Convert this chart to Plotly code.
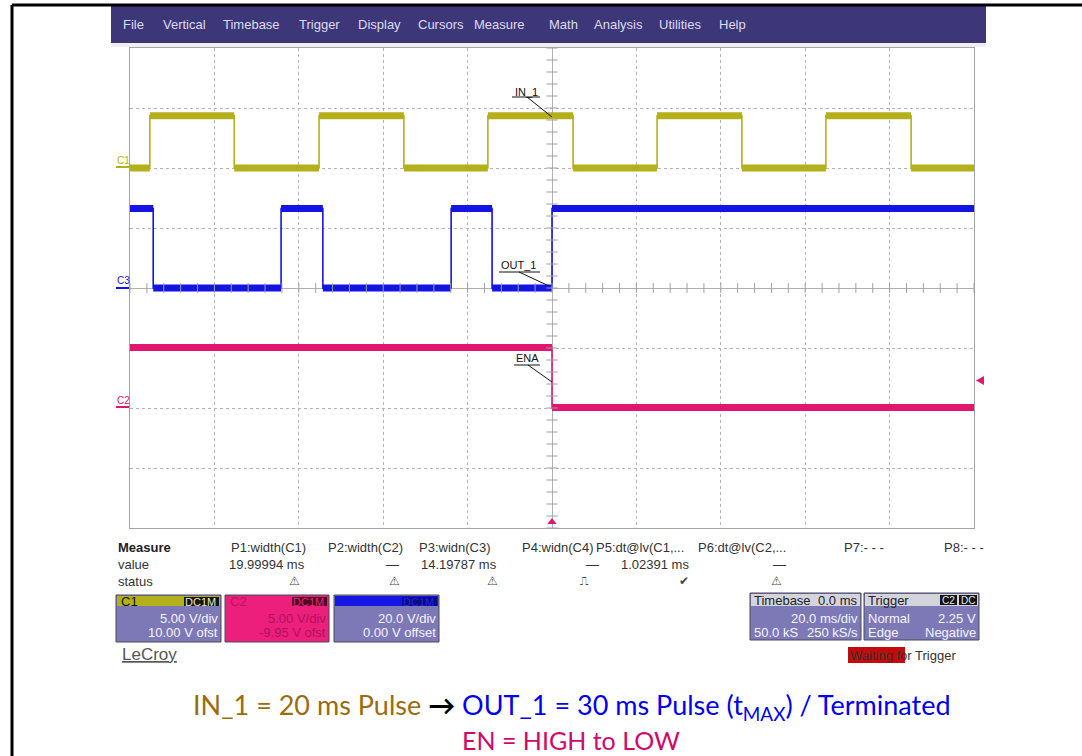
import plotly.graph_objects as go

W, H = 1082, 756

# ---------------- data ----------------
# time in ms (20 ms/div, trigger at 0 ms), levels in volts
time_ms_c1 = [-100, -95.3, -75.3, -55.2, -35.1, -15.2, 5.0, 24.9, 45.0, 64.9, 85.1, 100]
volt_c1 = [0.0, 4.35, 0.0, 4.35, 0.0, 4.35, 0.0, 4.35, 0.0, 4.35, 0.0, 0.0]
time_ms_c3 = [-100, -94.5, -64.2, -54.3, -23.9, -14.2, 0.0, 100]
volt_c3 = [26.5, 0.0, 26.5, 0.0, 26.5, 0.0, 26.5, 26.5]
time_ms_c2 = [-100, 0.0, 100]
volt_c2 = [5.0, 0.0, 0.0]

volts_per_div = {"C1": 5.0, "C2": 5.0, "C3": 20.0}
offset_v = {"C1": 10.0, "C2": -9.95, "C3": 0.0}
trigger_level_v = 2.25
trigger_time_ms = 0.0

signal_names = ["IN_1", "OUT_1", "ENA"]

menu_items = ["File", "Vertical", "Timebase", "Trigger", "Display", "Cursors",
              "Measure", "Math", "Analysis", "Utilities", "Help"]

meas_names = ["P1:width(C1)", "P2:width(C2)", "P3:widn(C3)", "P4:widn(C4)",
              "P5:dt@lv(C1,...", "P6:dt@lv(C2,...", "P7:- - -", "P8:- - -"]
meas_values = ["19.99994 ms", "\u2014", "14.19787 ms", "\u2014", "1.02391 ms", "\u2014", "", ""]
meas_status = ["\u26a0", "\u26a0", "\u26a0", "\u238d", "\u2714", "\u26a0", "", ""]

chan_labels = ["C1", "C2", "C3"]
chan_coupling = ["DC1M", "DC1M", "DC1M"]
chan_scale_text = ["5.00 V/div", "5.00 V/div", "20.0 V/div"]
chan_offset_text = ["10.00 V ofst", "-9.95 V ofst", "0.00 V offset"]

timebase_text = ["Timebase", "0.0 ms", "20.0 ms/div", "50.0 kS", "250 kS/s"]
trigger_text = ["Trigger", "C2", "DC", "Normal", "2.25 V", "Edge", "Negative"]

caption_line1_a = "IN_1 = 20 ms Pulse"
caption_line1_b = "OUT_1 = 30 ms Pulse (t<sub>MAX</sub>) / Terminated"
caption_line2 = "EN = HIGH to LOW"

# ---------------- styling ----------------
COL = {"C1": "#b4b01c", "C2": "#e3166f", "C3": "#1414e6"}
UI_FONT = "Liberation Sans"
BOX_BODY = "#7d79b6"

X0_PX, X1_PX = 130, 974      # graticule in pixels
Y0_PX, Y1_PX = 48, 528


def P(x):
    return x / W


def Q(y):
    return 1 - y / H


def to_div(ch, volts):
    return [(v + offset_v[ch]) / volts_per_div[ch] for v in volts]


def bands(t, v):
    xs, ys = [], []
    for i in range(len(t) - 1):
        xs += [t[i], t[i + 1], None]
        ys += [v[i], v[i], None]
    return xs, ys


fig = go.Figure()

# waveform traces (thin step for edges + thick band for noisy levels)
for ch, t, v in [("C2", time_ms_c2, volt_c2), ("C3", time_ms_c3, volt_c3), ("C1", time_ms_c1, volt_c1)]:
    d = to_div(ch, v)
    fig.add_trace(go.Scatter(x=t, y=d, mode="lines", line=dict(color=COL[ch], width=1.6, shape="hv"),
                             hoverinfo="skip", showlegend=False))
    bx, by = bands(t, d)
    fig.add_trace(go.Scatter(x=bx, y=by, mode="lines", line=dict(color=COL[ch], width=7),
                             hoverinfo="skip", showlegend=False))

# graticule centre ticks
fig.add_trace(go.Scatter(x=[i * 4 for i in range(-25, 26)], y=[0] * 51, mode="markers",
                         marker=dict(symbol="line-ns", size=7, line=dict(color="#a0a0a0", width=1)),
                         hoverinfo="skip", showlegend=False, cliponaxis=False))
fig.add_trace(go.Scatter(x=[0] * 41, y=[i * 0.2 for i in range(-20, 21)], mode="markers",
                         marker=dict(symbol="line-ew", size=8, line=dict(color="#a0a0a0", width=1)),
                         hoverinfo="skip", showlegend=False, cliponaxis=False))

# trigger time marker at the bottom of the graticule
fig.add_trace(go.Scatter(x=[trigger_time_ms], y=[-3.9], mode="markers",
                         marker=dict(symbol="triangle-up", size=8, color=COL["C2"]),
                         hoverinfo="skip", showlegend=False, cliponaxis=False))

fig.update_xaxes(range=[-100, 100], domain=[P(X0_PX), P(X1_PX)], dtick=20, showgrid=True,
                 gridcolor="#b4b4b4", griddash="dot", gridwidth=1, zeroline=True,
                 zerolinecolor="#b0b0b0", zerolinewidth=1, showline=True, mirror=True,
                 linecolor="#a4a4a4", linewidth=1, showticklabels=False, ticks="", fixedrange=True)
fig.update_yaxes(range=[-4, 4], domain=[Q(Y1_PX), Q(Y0_PX)], dtick=1, showgrid=True,
                 gridcolor="#b4b4b4", griddash="dot", gridwidth=1, zeroline=True,
                 zerolinecolor="#b0b0b0", zerolinewidth=1, showline=True, mirror=True,
                 linecolor="#a4a4a4", linewidth=1, showticklabels=False, ticks="", fixedrange=True)

shapes = []
annos = []


def rect(x0, y0, x1, y1, fill, line=None, lw=0, layer="below"):
    shapes.append(dict(type="rect", xref="paper", yref="paper", x0=P(x0), x1=P(x1), y0=Q(y1), y1=Q(y0),
                       fillcolor=fill, line=dict(color=line or fill, width=lw), layer=layer))


def seg(x0, y0, x1, y1, color, w=1, layer="above"):
    shapes.append(dict(type="line", xref="paper", yref="paper", x0=P(x0), x1=P(x1), y0=Q(y0), y1=Q(y1),
                       line=dict(color=color, width=w), layer=layer))


def txt(x, y, s, size=13, color="#333333", anchor="left", family=UI_FONT):
    annos.append(dict(xref="paper", yref="paper", x=P(x), y=Q(y), text=s, showarrow=False,
                      xanchor=anchor, yanchor="middle", borderpad=0,
                      font=dict(family=family, size=size, color=color)))


# trigger level marker (right edge), position from trigger level on C2
trig_div = (trigger_level_v + offset_v["C2"]) / volts_per_div["C2"]
trig_py = (Y0_PX + Y1_PX) / 2 - trig_div * (Y1_PX - Y0_PX) / 8
shapes.append(dict(type="path", xref="paper", yref="paper",
                   path="M %f,%f L %f,%f L %f,%f Z" % (P(976), Q(trig_py), P(984), Q(trig_py - 4.5),
                                                      P(984), Q(trig_py + 4.5)),
                   fillcolor=COL["C2"], line=dict(width=0)))

# outer black frame lines
seg(12, 5, 12, 756, "#000000", 3)
seg(12, 5, 1082, 5, "#000000", 3)

# menu bar
rect(111, 5, 986, 43, "#3d3779", layer="below")
rect(111, 43, 986, 47, "#eeeef3", layer="below")
menu_x = [122, 162, 222, 298, 357, 417, 473, 548, 593, 658, 718]
for name, mx in zip(menu_items, menu_x):
    txt(mx, 25, name, 13, "#dcdcee")

# channel ground markers on the left
for ch, ylab, yg in [("C1", 160, 167), ("C3", 281, 288), ("C2", 400, 407)]:
    txt(116, ylab, ch, 10, COL[ch])
    seg(116, yg, 129, yg, COL[ch], 2)

# signal name labels with pointer lines
label_pos = [(514, 92, 512, 97, 540, 97, 527, 97, 552, 117),
             (500, 265, 499, 272, 540, 272, 519, 272, 549, 286),
             (515, 358, 514, 365, 540, 365, 528, 365, 552, 382)]
for name, (lx, ly, u0, uy, u1, _, a0, ay0, a1, ay1) in zip(signal_names, label_pos):
    txt(lx, ly, name, 11, "#111111")
    seg(u0, uy, u1, uy, "#111111", 1)
    seg(a0, ay0, a1, ay1, "#111111", 1)

# measurement panel
txt(117, 547, "<b>Measure</b>", 13, "#222222")
txt(117, 564, "value", 13, "#333333")
txt(117, 581, "status", 13, "#333333")
name_x = [230, 327, 418, 521, 595, 697, 843, 943]
val_right = [306, 400, 498, 600, 690, 787, 0, 0]
stat_x = [294, 394, 492, 584, 684, 776, 0, 0]
for nm, val, st, nx, vx, sx in zip(meas_names, meas_values, meas_status, name_x, val_right, stat_x):
    txt(nx, 547, nm, 13, "#333333")
    if val:
        txt(vx, 564, val, 13, "#333333", anchor="right")
    if st:
        txt(sx, 581, st, 12, "#444444", anchor="center", family="DejaVu Sans")

# channel boxes
box_x = [(116, 221), (225, 329), (334, 439)]
head_fill = [COL["C1"], "#ec1f7d", "#1515e8"]
body_fill = [BOX_BODY, "#ec1f7d", BOX_BODY]
head_txt = ["#111111", "#b4165c", "#1a1ad0"]
badge_fill = ["#151515", "#4d0a26", "#0b0b8a"]
badge_txt = ["#e6e6c8", "#e0287c", "#2424e0"]
body_txt = ["#f4f4ff", "#b01258", "#f4f4ff"]
for i, (x0, x1) in enumerate(box_x):
    rect(x0, 595, x1, 642, body_fill[i], "#4a4a5a", 1)
    rect(x0 + 1, 596, x1 - 1, 606, head_fill[i])
    rect(x1 - 37, 597, x1 - 2, 606, badge_fill[i])
    txt(x0 + 4, 601, chan_labels[i], 13, head_txt[i])
    txt(x1 - 4, 601.5, chan_coupling[i], 11, badge_txt[i], anchor="right")
    txt(x1 - 2, 618, chan_scale_text[i], 13, body_txt[i], anchor="right")
    txt(x1 - 2, 632, chan_offset_text[i], 13, body_txt[i], anchor="right")

txt(121, 654, "<u>LeCroy</u>", 17, "#555555")

# timebase box
rect(750, 593, 861, 640, BOX_BODY, "#4a4a5a", 1)
rect(751, 594, 860, 606, "#d4d4dc")
txt(753, 600, timebase_text[0], 13, "#222222")
txt(859, 600, timebase_text[1], 13, "#222222", anchor="right")
txt(859, 618, timebase_text[2], 13, "#f4f4ff", anchor="right")
txt(753, 632, timebase_text[3], 13, "#f4f4ff")
txt(859, 632, timebase_text[4], 13, "#f4f4ff", anchor="right")

# trigger box
rect(864, 593, 979, 640, BOX_BODY, "#4a4a5a", 1)
rect(865, 594, 978, 606, "#d4d4dc")
txt(867, 600, trigger_text[0], 13, "#222222")
rect(940, 595, 957, 605, "#151515")
rect(959, 595, 977, 605, "#151515")
txt(948.5, 600.5, trigger_text[1], 10, "#e8e8e8", anchor="center")
txt(968, 600.5, trigger_text[2], 10, "#e8e8e8", anchor="center")
txt(867, 618, trigger_text[3], 13, "#f4f4ff")
txt(977, 618, trigger_text[4], 13, "#f4f4ff", anchor="right")
txt(867, 632, trigger_text[5], 13, "#f4f4ff")
txt(977, 632, trigger_text[6], 13, "#f4f4ff", anchor="right")

# waiting for trigger
rect(848, 647, 905, 663, "#c40a0a")
txt(849, 655, "Waiting for Trigger", 13, "#333333")

# caption
txt(572, 706, '<span style="color:#9c6b0b">' + caption_line1_a + '</span> <b>\u2192</b> '
    '<span style="color:#0000ee">' + caption_line1_b + '</span>', 27, "#000000",
    anchor="center", family="Lato")
txt(571, 740, caption_line2, 25, "#d0086c", anchor="center", family="Lato")

fig.update_layout(width=W, height=H, margin=dict(l=0, r=0, t=0, b=0), paper_bgcolor="white",
                  plot_bgcolor="white", showlegend=False, shapes=shapes, annotations=annos)

fig.write_html("out.html", config={"displayModeBar": False, "staticPlot": True},
               post_script="document.body.style.margin='0';document.body.style.overflow='hidden';")
